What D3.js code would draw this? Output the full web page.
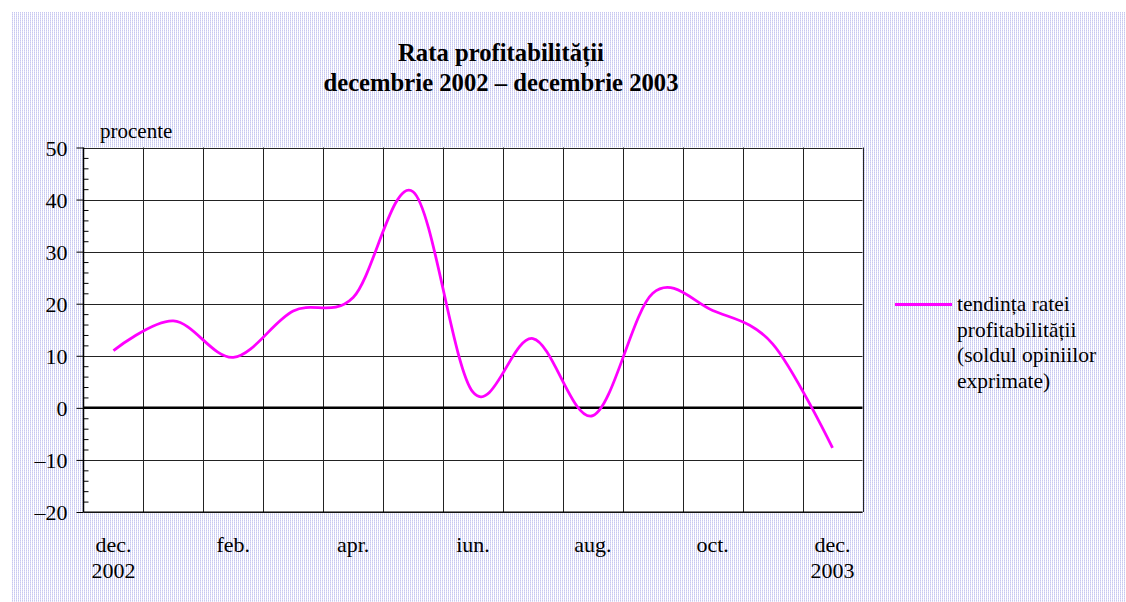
<!DOCTYPE html>
<html>
<head>
<meta charset="utf-8">
<script src="https://cdn.jsdelivr.net/npm/d3@7"></script>
<style>
  body { margin: 0; background: #fff; }
  text { font-family: "Liberation Serif", "Times New Roman", serif; fill: #000; }
</style>
</head>
<body>
<div id="chart"></div>
<script>
// months along the x axis (dec 2002 .. dec 2003)
const months = ["dec.", "ian.", "feb.", "mar.", "apr.", "mai", "iun.", "iul.", "aug.", "sep.", "oct.", "noi.", "dec."]
const yearLabels = ["2002", "", "", "", "", "", "", "", "", "", "", "", "2003"]
// balance of opinions, percent
const profitTrend = [11.0, 16.7, 9.7, 18.6, 21.2, 41.5, 3.0, 13.3, -1.5, 22.0, 18.7, 12.3, -7.7]
const yTicks = [-20, -10, 0, 10, 20, 30, 40, 50]
const seriesName = ["tendința ratei", "profitabilității", "(soldul opiniilor", "exprimate)"]

const width = 1126
const height = 602
const plot = { left: 83.5, right: 862.5, top: 147.5, bottom: 512 }

const svg = d3.select("#chart")
    .append("svg")
    .attr("width", width)
    .attr("height", height)

// dotted background
const defs = svg.append("defs")
const pat = defs.append("pattern")
    .attr("id", "dots")
    .attr("width", 2).attr("height", 2)
    .attr("patternUnits", "userSpaceOnUse")
pat.append("rect").attr("width", 2).attr("height", 2).attr("fill", "#fff")
pat.append("rect").attr("x", 0).attr("width", 1).attr("height", 2).attr("fill", "#dcdcf6")
pat.append("rect").attr("x", 0).attr("y", 0).attr("width", 1).attr("height", 1).attr("fill", "#c8c8f0")

svg.append("rect")
    .attr("x", 12).attr("y", 12)
    .attr("width", width - 12).attr("height", height - 12)
    .attr("fill", "url(#dots)")

svg.append("rect")
    .attr("x", plot.left).attr("y", plot.top)
    .attr("width", plot.right - plot.left).attr("height", plot.bottom - plot.top)
    .attr("fill", "#fff")

const x = d3.scaleBand()
    .domain(d3.range(months.length))
    .range([plot.left, plot.right])
    .paddingInner(0)

const y = d3.scaleLinear()
    .domain([-20, 50])
    .range([plot.bottom, plot.top])

// outer ticks + labels on the left
svg.append("g")
    .attr("transform", `translate(${plot.left},0)`)
    .call(d3.axisLeft(y).tickValues(yTicks).tickSize(7).tickFormat(d => d < 0 ? "\u2013" + Math.abs(d) : d))
    .call(g => g.select(".domain").remove())
    .call(g => g.selectAll("line").attr("stroke", "#000"))
    .call(g => g.selectAll("text")
        .attr("x", -16)
        .attr("dy", "0.35em")
        .style("font-size", "22px"))

// horizontal gridlines
svg.append("g")
    .selectAll("line")
    .data(yTicks.filter(d => d !== 0))
    .join("line")
    .attr("x1", plot.left).attr("x2", plot.right)
    .attr("y1", d => Math.round(y(d)) + 0.5).attr("y2", d => Math.round(y(d)) + 0.5)
    .attr("stroke", "#222").attr("stroke-width", 1)

// vertical gridlines at month boundaries
svg.append("g")
    .selectAll("line")
    .data(d3.range(1, months.length + 1))
    .join("line")
    .attr("x1", d => Math.round(x(d - 1) + x.bandwidth()) + 0.5)
    .attr("x2", d => Math.round(x(d - 1) + x.bandwidth()) + 0.5)
    .attr("y1", plot.top).attr("y2", plot.bottom)
    .attr("stroke", "#222").attr("stroke-width", 1)

// minor ticks inside the left axis
svg.append("g")
    .attr("transform", `translate(${plot.left},0)`)
    .call(d3.axisRight(y).tickValues(d3.range(-20, 51, 2).filter(d => d % 10 !== 0)).tickSize(5).tickFormat(""))
    .call(g => g.select(".domain").remove())
    .call(g => g.selectAll("line").attr("stroke", "#000"))

// left axis + bottom edge
svg.append("line")
    .attr("x1", plot.left).attr("x2", plot.left)
    .attr("y1", plot.top).attr("y2", plot.bottom)
    .attr("stroke", "#000").attr("stroke-width", 1.5)
svg.append("line")
    .attr("x1", plot.left).attr("x2", plot.right)
    .attr("y1", plot.bottom).attr("y2", plot.bottom)
    .attr("stroke", "#000").attr("stroke-width", 1.2)

// zero line
svg.append("line")
    .attr("x1", plot.left).attr("x2", plot.right)
    .attr("y1", y(0)).attr("y2", y(0))
    .attr("stroke", "#000").attr("stroke-width", 2.5)

// month labels (every second month) and years
const lab = svg.append("g")
    .selectAll("g")
    .data(months.map((m, i) => ({ m, i })).filter(d => d.i % 2 === 0))
    .join("g")
lab.append("text")
    .attr("x", d => x(d.i) + x.bandwidth() / 2)
    .attr("y", 552)
    .attr("text-anchor", "middle")
    .style("font-size", "22px")
    .text(d => d.m)
lab.append("text")
    .attr("x", d => x(d.i) + x.bandwidth() / 2)
    .attr("y", 578)
    .attr("text-anchor", "middle")
    .style("font-size", "22px")
    .text(d => yearLabels[d.i])

// the series
const line = d3.line()
    .x((d, i) => x(i) + x.bandwidth() / 2)
    .y(d => y(d))
    .curve(d3.curveCatmullRom.alpha(0))

svg.append("path")
    .datum(profitTrend)
    .attr("d", line)
    .attr("fill", "none")
    .attr("stroke", "#ff00ff")
    .attr("stroke-width", 2.8)

// titles
svg.append("text")
    .attr("x", 501).attr("y", 61)
    .attr("text-anchor", "middle")
    .style("font-size", "24.7px").style("font-weight", "bold")
    .text("Rata profitabilității")
svg.append("text")
    .attr("x", 501).attr("y", 91)
    .attr("text-anchor", "middle")
    .style("font-size", "24.7px").style("font-weight", "bold")
    .text("decembrie 2002 \u2013 decembrie 2003")

svg.append("text")
    .attr("x", 100).attr("y", 138)
    .style("font-size", "21px")
    .text("procente")

// legend
svg.append("line")
    .attr("x1", 895).attr("x2", 952)
    .attr("y1", 304.5).attr("y2", 304.5)
    .attr("stroke", "#ff00ff").attr("stroke-width", 2.8)
svg.append("g")
    .selectAll("text")
    .data(seriesName)
    .join("text")
    .attr("x", 957)
    .attr("y", (d, i) => 311 + i * 25.5)
    .style("font-size", "21.5px")
    .text(d => d)
</script>
</body>
</html>
